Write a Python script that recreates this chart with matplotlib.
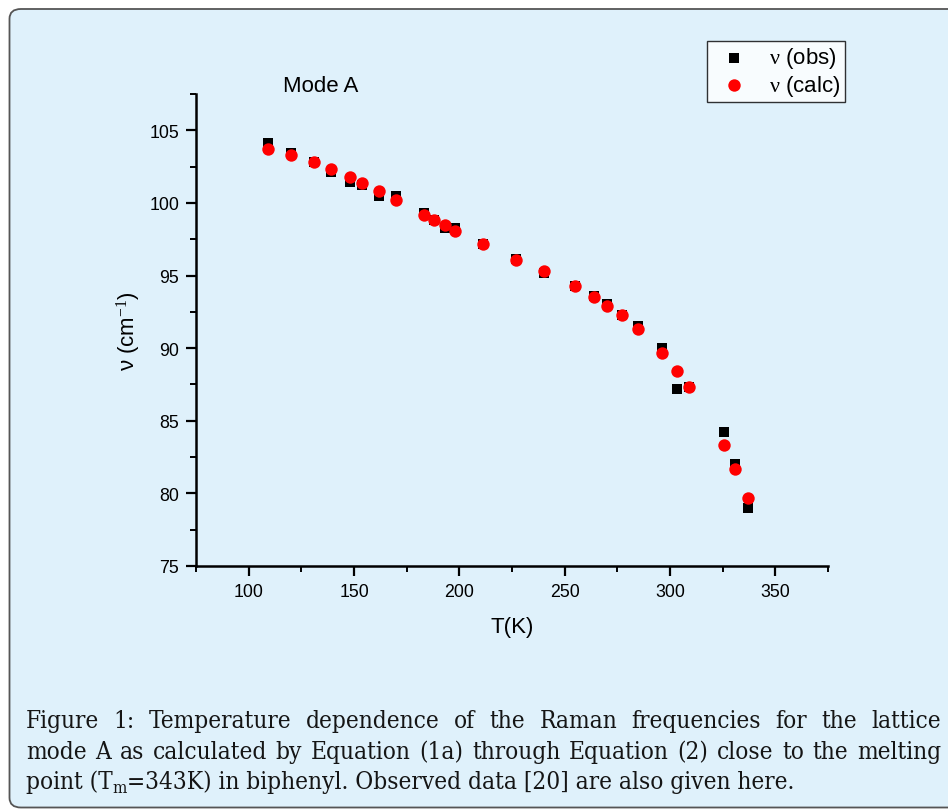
import matplotlib
matplotlib.use("Agg")
import matplotlib.pyplot as plt
from matplotlib.patches import FancyBboxPatch
from matplotlib.ticker import MultipleLocator

plt.rcParams["mathtext.fontset"] = "custom"
plt.rcParams["mathtext.rm"] = "Liberation Serif"
plt.rcParams["mathtext.it"] = "Liberation Serif:italic"

# ---- data ----
T = [109, 120, 131, 139, 148, 154, 162, 170, 183, 188, 193, 198, 211, 227,
     240, 255, 264, 270, 277, 285, 296, 303.5, 309, 325.5, 331, 337]
nu_obs = [104.15, 103.45, 102.8, 102.15, 101.45, 101.2, 100.5, 100.5, 99.3, 98.85,
          98.3, 98.3, 97.2, 96.15, 95.15, 94.3, 93.6, 93.05, 92.3, 91.5, 90.0,
          87.2, 87.3, 84.25, 82.05, 79.0]
nu_calc = [103.7, 103.3, 102.8, 102.35, 101.8, 101.35, 100.8, 100.2, 99.15, 98.8,
           98.45, 98.1, 97.15, 96.1, 95.3, 94.25, 93.5, 92.9, 92.25, 91.3, 89.7,
           88.4, 87.3, 83.3, 81.7, 79.7]

xticks = [100, 150, 200, 250, 300, 350]
yticks = [75, 80, 85, 90, 95, 100, 105]

BG = "#dff1fb"
W, H = 948, 812
SANS = "Liberation Sans"

fig = plt.figure(figsize=(W / 100, H / 100), dpi=100)
fig.patch.set_facecolor("white")

# rounded panel
panel = FancyBboxPatch((9.5 / W, 3.5 / H), (W + 20) / W, (H - 13.5) / H,
                       boxstyle="round,pad=0,rounding_size=0.012",
                       transform=fig.transFigure, facecolor=BG,
                       edgecolor="#555555", linewidth=1.3, zorder=-5)
fig.patches.append(panel)

ax = fig.add_axes([196 / W, 1 - 567 / H, (828 - 196) / W, (567 - 95) / H])
ax.set_zorder(2)
ax.set_facecolor("none")
ax.set_xlim(75, 375)
ax.set_ylim(75, 107.5)

ax.scatter(T, nu_obs, marker="s", s=54, color="black", linewidths=0,
           label=r"$\mathrm{\nu}$ (obs)", zorder=3, clip_on=False)
ax.scatter(T, nu_calc, marker="o", s=80, color="#ff0000", linewidths=0,
           label=r"$\mathrm{\nu}$ (calc)", zorder=4, clip_on=False)

for s in ["top", "right"]:
    ax.spines[s].set_visible(False)
for s in ["left", "bottom"]:
    ax.spines[s].set_linewidth(1.8)

ax.set_xticks(xticks)
ax.set_yticks(yticks)
ax.xaxis.set_minor_locator(MultipleLocator(25))
ax.yaxis.set_minor_locator(MultipleLocator(2.5))
ax.tick_params(which="major", direction="out", length=7, width=1.6,
               labelsize=12.8, pad=5)
ax.tick_params(which="minor", direction="out", length=4.5, width=1.4)
for lab in ax.get_xticklabels() + ax.get_yticklabels():
    lab.set_fontfamily(SANS)

ax.set_xlabel("T(K)", fontsize=16, family=SANS, labelpad=12)
ax.set_ylabel("ν (cm$^{-1}$)", fontsize=16, family=SANS, labelpad=5)

fig.text(321 / W, 1 - 87 / H, "Mode A", fontsize=16, family=SANS,
         ha="center", va="center")

leg = ax.legend(loc="upper left", bbox_to_anchor=((707 - 196) / (828 - 196),
                (567 - 42) / (567 - 95)),
                frameon=True, fancybox=False, edgecolor="black",
                prop={"family": SANS, "size": 16},
                handletextpad=0.6, borderpad=0.2, labelspacing=0.1,
                markerscale=1.0, handlelength=2.0, borderaxespad=0)
leg.get_frame().set_linewidth(1.0)
leg.get_frame().set_facecolor("white")

# ---- caption (justified) ----
renderer = fig.canvas.get_renderer()


def text_width(s, **kw):
    t = fig.text(0, 0, s, **kw)
    w = t.get_window_extent(renderer).width
    t.remove()
    return w


line3a = "point (T"
line3b = "=343K) in biphenyl. Observed data [20] are also given here."
base = dict(family="DejaVu Serif", fontstretch="condensed", color="#151515")
# choose size so that the last (unjustified) line spans the same width as in the reference
w_ref = text_width(line3a + "m" + line3b, size=10, **base)
cap_size = 10 * 775 / w_ref
cap_font = dict(base, size=cap_size)


def justified(words, y, x0, x1):
    widths = [text_width(w, **cap_font) for w in words]
    gap = (x1 - x0 - sum(widths)) / (len(words) - 1)
    x = x0
    for w, wd in zip(words, widths):
        fig.text(x / W, 1 - y / H, w, ha="left", va="baseline", **cap_font)
        x += wd + gap


line1 = "Figure 1: Temperature dependence of the Raman frequencies for the lattice".split()
line2 = "mode A as calculated by Equation (1a) through Equation (2) close to the melting".split()
justified(line1, 728, 26, 941)
justified(line2, 759, 26, 941)

x = 26
pieces = [(line3a, 0, cap_size), ("m", 4, cap_size * 0.7), (line3b, 0, cap_size)]
for s, dy, fs in pieces:
    kw = dict(cap_font)
    kw["size"] = fs
    fig.text(x / W, 1 - (789 + dy) / H, s, ha="left", va="baseline", **kw)
    x += text_width(s, **kw)

fig.savefig("out.png", dpi=100, facecolor=fig.get_facecolor())
